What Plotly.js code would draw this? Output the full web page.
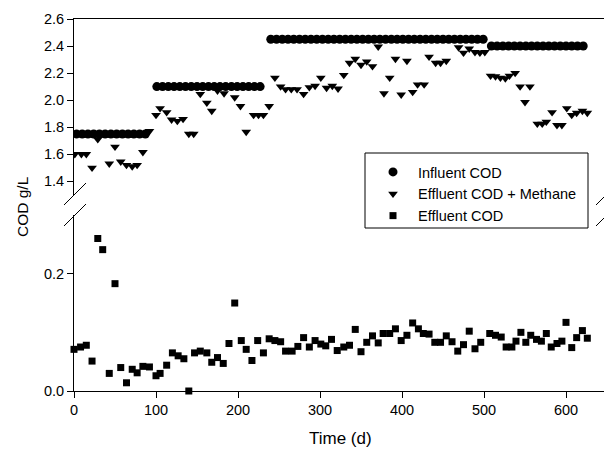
<!DOCTYPE html>
<html>
<head>
<meta charset="utf-8">
<script src="https://cdn.plot.ly/plotly-3.0.1.min.js"></script>
<style>
html,body{margin:0;padding:0;overflow:hidden;background:#fff;}
#chart{width:621px;height:452px;}
</style>
</head>
<body>
<div id="chart"></div>
<script>
// ---- data ----
var influentDay = [3,10,17,24,31,38,45,52,59,66,73,80,87,
  101,108,115,122,129,136,143,150,157,164,171,178,185,192,199,206,213,220,227,
  240,247,254,261,268,275,282,289,296,303,310,317,324,331,338,345,352,359,366,373,380,387,394,401,408,415,422,429,436,443,450,457,464,471,478,485,492,499,
  509,516,523,530,537,544,551,558,565,572,579,586,593,600,607,614,621];
var influentCOD = [1.75,1.75,1.75,1.75,1.75,1.75,1.75,1.75,1.75,1.75,1.75,1.75,1.75,
  2.1,2.1,2.1,2.1,2.1,2.1,2.1,2.1,2.1,2.1,2.1,2.1,2.1,2.1,2.1,2.1,2.1,2.1,2.1,
  2.45,2.45,2.45,2.45,2.45,2.45,2.45,2.45,2.45,2.45,2.45,2.45,2.45,2.45,2.45,2.45,2.45,2.45,2.45,2.45,2.45,2.45,2.45,2.45,2.45,2.45,2.45,2.45,2.45,2.45,2.45,2.45,2.45,2.45,2.45,2.45,2.45,2.45,
  2.4,2.4,2.4,2.4,2.4,2.4,2.4,2.4,2.4,2.4,2.4,2.4,2.4,2.4,2.4,2.4,2.4];

var methaneDay = [1,9,15,22,29,43,50,57,64,71,77,84,92,
  100,105,113,119,126,133,140,146,154,162,168,175,183,196,203,210,219,225,231,238,
  245,252,258,265,272,280,287,294,301,308,315,322,329,336,343,350,357,364,371,378,385,392,399,406,413,419,427,433,441,447,454,469,475,482,489,495,501,
  508,514,520,526,531,538,544,550,556,565,571,576,583,589,595,601,607,613,620,626];
var effluentPlusMethane = [1.60,1.60,1.60,1.50,1.71,1.53,1.655,1.545,1.52,1.51,1.52,1.615,1.77,
  1.89,1.94,1.91,1.855,1.845,1.86,1.75,1.75,2.045,1.98,1.92,2.07,2.05,2.02,1.955,1.765,1.89,1.89,1.89,1.955,
  2.165,2.10,2.08,2.08,2.08,2.045,2.095,2.105,2.165,2.09,2.105,2.085,2.185,2.275,2.305,2.26,2.285,2.25,2.395,2.05,2.165,2.305,2.04,2.29,2.06,2.115,2.115,2.32,2.275,2.275,2.29,2.39,2.35,2.38,2.355,2.35,2.355,
  2.18,2.175,2.165,2.16,2.18,2.20,2.10,1.985,2.10,1.825,1.825,1.84,1.91,1.815,1.815,1.94,1.89,1.905,1.92,1.905];

var effluentDay = [0,8,15,22,29,35,43,50,57,64,71,77,84,92,100,105,113,120,127,134,140,
  147,154,162,168,175,182,189,196,204,210,217,224,231,238,245,252,258,266,273,280,287,294,301,307,314,321,
  329,336,343,350,357,364,371,377,385,392,399,406,413,420,426,433,440,447,454,461,468,475,482,489,496,
  507,514,521,527,534,539,545,551,557,564,570,576,582,589,595,600,607,613,620,626];
var effluentCOD = [0.071,0.075,0.078,0.051,0.26,0.241,0.030,0.183,0.040,0.014,0.037,0.031,0.042,0.041,0.026,0.030,0.044,0.065,0.060,0.055,0.0,
  0.065,0.068,0.065,0.049,0.057,0.047,0.081,0.150,0.086,0.071,0.052,0.086,0.065,0.089,0.086,0.084,0.068,0.068,0.076,0.091,0.075,0.086,0.080,0.077,0.088,0.069,
  0.075,0.078,0.105,0.067,0.083,0.094,0.082,0.098,0.098,0.106,0.086,0.095,0.116,0.106,0.098,0.097,0.083,0.083,0.094,0.084,0.068,0.079,0.102,0.072,0.083,
  0.098,0.095,0.092,0.075,0.075,0.085,0.100,0.083,0.095,0.088,0.085,0.098,0.075,0.081,0.085,0.117,0.074,0.091,0.103,0.090];

var xTicks = [0,100,200,300,400,500,600];

// ---- geometry helpers (pixel -> paper) ----
var L = 74, R = 607, T = 19, B = 391;
function px(x){ return (x - L) / (R - L); }
function py(y){ return (B - y) / (B - T); }

var font = {family: '"Liberation Sans", Arial, sans-serif', size: 14.5, color: '#000'};

var traces = [
  {x: influentDay, y: influentCOD, xaxis: 'x2', yaxis: 'y2', type: 'scatter', mode: 'markers',
   name: 'Influent COD', marker: {symbol: 'circle', size: 9, color: '#000'}},
  {x: methaneDay, y: effluentPlusMethane, xaxis: 'x2', yaxis: 'y2', type: 'scatter', mode: 'markers',
   name: 'Effluent COD + Methane', marker: {symbol: 'triangle-down', size: 8.5, color: '#000'}},
  {x: effluentDay, y: effluentCOD, xaxis: 'x', yaxis: 'y', type: 'scatter', mode: 'markers', cliponaxis: false,
   name: 'Effluent COD', marker: {symbol: 'square', size: 7, color: '#000'}}
];

function slash(x, y){ // small break mark centred at pixel (x,y)
  return {type: 'line', xref: 'paper', yref: 'paper', x0: px(x-11), y0: py(y+11), x1: px(x+11), y1: py(y-11),
          line: {color: '#000', width: 1}};
}

var layout = {
  width: 621, height: 452,
  margin: {l: L, r: 621 - R, t: T, b: 452 - B, pad: 0},
  paper_bgcolor: '#fff', plot_bgcolor: '#fff',
  font: font,
  showlegend: true,
  legend: {x: px(368), y: py(156), xanchor: 'left', yanchor: 'top', bgcolor: 'rgba(0,0,0,0)',
           borderwidth: 0, font: font, itemwidth: 40, tracegroupgap: 0},
  xaxis: {domain: [0, 1], anchor: 'y', range: [0, 650], tickvals: xTicks, ticks: 'outside', ticklen: 6,
          tickcolor: '#000', showline: true, linecolor: '#000', linewidth: 1, showgrid: false, zeroline: false,
          tickfont: font},
  xaxis2: {domain: [0, 1], anchor: 'y2', matches: 'x', side: 'top', showticklabels: false, ticks: '',
           showline: true, linecolor: '#000', linewidth: 1, showgrid: false, zeroline: false},
  yaxis: {domain: [0, 0.473], anchor: 'x', range: [0, 0.3], tick0: 0, dtick: 0.2, tickformat: '.1f',
          ticks: 'outside', ticklen: 6, tickcolor: '#000', showline: true, linecolor: '#000', linewidth: 1,
          showgrid: false, zeroline: false, tickfont: font},
  yaxis2: {domain: [0.5274, 1], anchor: 'x2', range: [1.3, 2.6], tick0: 1.4, dtick: 0.2, tickformat: '.1f',
           ticks: 'outside', ticklen: 6, tickcolor: '#000', showline: true, linecolor: '#000', linewidth: 1,
           showgrid: false, zeroline: false, tickfont: font},
  shapes: [
    {type: 'rect', xref: 'paper', yref: 'paper', x0: px(365), x1: px(588), y0: py(228), y1: py(153),
     line: {color: '#000', width: 1}, fillcolor: '#fff', layer: 'above'},
    slash(75, 194), slash(75, 215), slash(607, 194), slash(607, 215)
  ],
  annotations: [
    {text: 'Time (d)', xref: 'paper', yref: 'paper', x: 0.5, y: py(438), xanchor: 'center', yanchor: 'middle',
     showarrow: false, font: {family: font.family, size: 17, color: '#000'}},
    {text: 'COD g/L', xref: 'paper', yref: 'paper', x: px(22), y: py(207), xanchor: 'center', yanchor: 'middle',
     textangle: -90, showarrow: false, font: {family: font.family, size: 15.5, color: '#000'}}
  ]
};

Plotly.newPlot('chart', traces, layout, {displayModeBar: false, staticPlot: true});
</script>
</body>
</html>
